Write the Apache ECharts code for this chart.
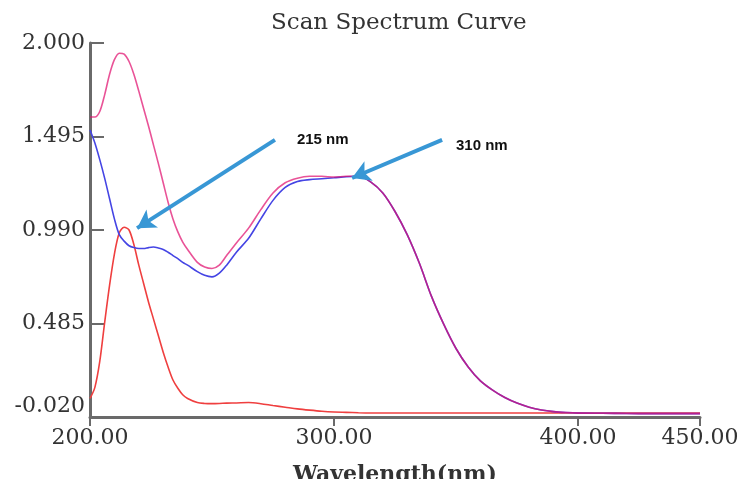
<!DOCTYPE html>
<html>
<head>
<meta charset="utf-8">
<script src="https://cdn.jsdelivr.net/npm/echarts@6/dist/echarts.min.js"></script>
<style>
  html, body { margin: 0; padding: 0; background: #fff; }
  #chart { width: 743px; height: 479px; }
</style>
</head>
<body>
<div id="chart"></div>
<script>
// wavelength grid (nm) shared by the three scans
var wavelengths = [200, 202, 204, 206, 208, 210, 212, 214, 216, 218, 220, 222, 224, 226, 228, 230, 232, 234, 236, 238, 240,
  244, 247, 250, 253, 256, 260, 265, 270, 275, 280, 285, 290, 295, 300, 305, 310, 315, 320, 325, 330, 335, 340, 345, 350,
  355, 360, 365, 370, 375, 380, 385, 390, 395, 400, 410, 420, 430, 440, 450];

var redAbs = [0.08, 0.14, 0.28, 0.49, 0.69, 0.86, 0.975, 1.005, 0.99, 0.91, 0.80, 0.70, 0.60, 0.51, 0.42, 0.33, 0.25, 0.18, 0.135, 0.10, 0.08,
  0.058, 0.053, 0.052, 0.053, 0.055, 0.056, 0.058, 0.052, 0.042, 0.033, 0.024, 0.017, 0.011, 0.007, 0.005, 0.003, 0.002, 0.002, 0.002, 0.002, 0.002, 0.002, 0.002, 0.002,
  0.002, 0.002, 0.002, 0.002, 0.002, 0.002, 0.002, 0.002, 0.002, 0.002, 0.002, 0.002, 0.002, 0.002, 0.002];

var blueAbs = [1.53, 1.46, 1.37, 1.27, 1.16, 1.05, 0.965, 0.93, 0.905, 0.895, 0.89, 0.89, 0.895, 0.898, 0.893, 0.885, 0.87, 0.852, 0.835, 0.815, 0.80,
  0.765, 0.745, 0.737, 0.757, 0.80, 0.87, 0.945, 1.05, 1.15, 1.22, 1.252, 1.262, 1.267, 1.272, 1.278, 1.28, 1.25, 1.19, 1.09, 0.965, 0.81, 0.63, 0.48, 0.35,
  0.25, 0.175, 0.125, 0.085, 0.055, 0.033, 0.018, 0.009, 0.004, 0.001, 0.0, -0.001, -0.002, -0.002, -0.002];

var pinkAbs = [1.60, 1.60, 1.63, 1.72, 1.83, 1.91, 1.945, 1.94, 1.90, 1.83, 1.74, 1.645, 1.55, 1.45, 1.35, 1.245, 1.14, 1.05, 0.98, 0.925, 0.885,
  0.815, 0.79, 0.782, 0.80, 0.852, 0.92, 1.00, 1.10, 1.19, 1.245, 1.27, 1.28, 1.28, 1.276, 1.28, 1.28, 1.25, 1.19, 1.09, 0.965, 0.81, 0.63, 0.48, 0.35,
  0.25, 0.175, 0.125, 0.085, 0.055, 0.033, 0.018, 0.009, 0.004, 0.001, 0.0, -0.001, -0.002, -0.002, -0.002];

var yTicks = [-0.02, 0.485, 0.99, 1.495, 2.0];
var xTicks = [200, 300, 400, 450];

// annotation arrows: [from, to] in (nm, abs)
var arrow215 = [[275.8, 1.477], [219.3, 1.0]];
var arrow310 = [[344.3, 1.477], [307.4, 1.271]];
var noteLabels = ['215 nm', '310 nm'];
var notePos = [[284.8, 1.477], [350.0, 1.444]];

function pairs(vals) {
  return wavelengths.map(function (w, i) { return [w, vals[i]]; });
}

var axisColor = '#6a6a6a';
var serif = 'DejaVu Serif';

var myChart = echarts.init(document.getElementById('chart'));
myChart.setOption({
  animation: false,
  backgroundColor: '#fff',
  title: {
    text: 'Scan Spectrum Curve',
    left: 266,
    top: 7,
    textStyle: { fontFamily: serif, fontSize: 23, fontWeight: 'normal', color: '#333' }
  },
  grid: { left: 90, right: 43, top: 43, bottom: 62, outerBoundsMode: 'none', containLabel: false },
  xAxis: {
    type: 'value',
    min: 200,
    max: 450,
    name: 'Wavelength(nm)',
    nameLocation: 'middle',
    nameGap: 47,
    nameTextStyle: { fontFamily: serif, fontSize: 22, fontWeight: 'bold', color: '#333' },
    axisLine: { onZero: false, lineStyle: { color: axisColor, width: 3 } },
    axisTick: { customValues: xTicks, length: 9, lineStyle: { color: axisColor, width: 2 } },
    axisLabel: {
      customValues: xTicks,
      margin: 10,
      fontFamily: serif,
      fontSize: 22,
      color: '#333',
      formatter: function (v) { return v.toFixed(2); }
    },
    splitLine: { show: false }
  },
  yAxis: {
    type: 'value',
    min: -0.02,
    max: 2.0,
    axisLine: { show: true, onZero: false, lineStyle: { color: axisColor, width: 3 } },
    axisTick: { show: true, inside: true, customValues: yTicks, length: 14, lineStyle: { color: axisColor, width: 2 } },
    axisLabel: {
      customValues: yTicks,
      margin: 5,
      fontFamily: serif,
      fontSize: 22,
      color: '#333',
      formatter: function (v) {
        var s = v.toFixed(3);
        return v < 0 ? '{low|' + s + '}' : s;
      },
      rich: { low: { fontFamily: serif, fontSize: 22, color: '#333', padding: [0, 0, 22, 0] } }
    },
    splitLine: { show: false }
  },
  series: [
    {
      name: 'red',
      type: 'line',
      data: pairs(redAbs),
      smooth: 0.3,
      showSymbol: false,
      lineStyle: { color: '#ef3f3f', width: 1.6 },
      markLine: {
        silent: true,
        symbol: ['none', 'arrow'],
        symbolSize: [16, 18],
        label: { show: false },
        lineStyle: { color: '#3897d5', width: 4, type: 'solid' },
        data: [
          [{ coord: arrow215[0] }, { coord: arrow215[1] }],
          [{ coord: arrow310[0] }, { coord: arrow310[1] }]
        ]
      },
      markPoint: {
        silent: true,
        symbol: 'circle',
        symbolSize: 0,
        label: {
          show: true,
          position: 'right',
          distance: 0,
          formatter: '{b}',
          fontFamily: 'Liberation Sans',
          fontWeight: 'bold',
          fontSize: 15,
          color: '#111'
        },
        data: noteLabels.map(function (t, i) { return { name: t, coord: notePos[i] }; })
      }
    },
    {
      name: 'blue',
      type: 'line',
      data: pairs(blueAbs),
      smooth: 0.3,
      showSymbol: false,
      lineStyle: { color: '#4545e4', width: 1.6 }
    },
    {
      name: 'pink',
      type: 'line',
      data: pairs(pinkAbs),
      smooth: 0.3,
      showSymbol: false,
      lineStyle: { color: '#e0106f', width: 1.6, opacity: 0.72 }
    }
  ]
}, true);
</script>
</body>
</html>
